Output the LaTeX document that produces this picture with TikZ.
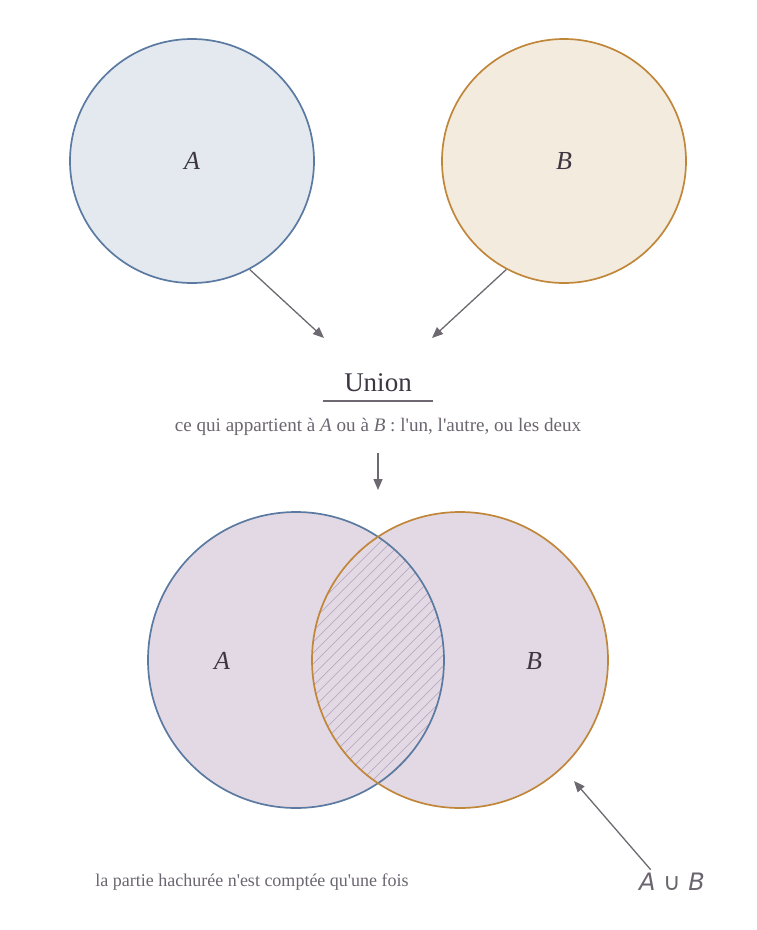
\documentclass[tikz,border=0pt]{standalone}
\usepackage{fontspec}
\setmainfont{Liberation Serif}
\newfontfamily\unionsym{DejaVu Sans}
\usetikzlibrary{arrows.meta}

\definecolor{lineA}{HTML}{5B7AA1}
\definecolor{fillA}{HTML}{E4E9F0}
\definecolor{lineB}{HTML}{C0873A}
\definecolor{fillB}{HTML}{F4EBDF}
\definecolor{fillU}{HTML}{E3D9E4}
\definecolor{hatchline}{HTML}{B8AAC2}
\definecolor{arrowgray}{HTML}{6E6870}
\definecolor{inkdark}{HTML}{3D3541}
\definecolor{inkgray}{HTML}{6B6570}

\tikzset{
    setlabel/.style={text=inkdark, font=\fontsize{26}{30}\selectfont\itshape},
    setcircle/.style={circle, line width=1.7pt, minimum size=244pt, inner sep=0pt},
    pointer/.style={draw=arrowgray, line width=1.3pt, -{Triangle[length=11pt,width=9pt]}}
}

\begin{document}
\begin{tikzpicture}[
        x = 1pt,
        y = -1pt
    ]
        \useasboundingbox (0,0) rectangle (756,930);

        % the two sets apart
        \node[setcircle, draw=lineA, fill=fillA, setlabel] (topA) at (192,161) {A};
        \node[setcircle, draw=lineB, fill=fillB, setlabel] (topB) at (564,161) {B};

        % title
        \node[text=inkdark, font=\fontsize{27}{32}\selectfont] (union) at (378,383) {Union};
        \draw[arrowgray, line width=1.3pt] (323,401) -- (433,401);
        \node[text=inkgray, font=\fontsize{19.1}{23}\selectfont] (subtitle) at (378,427)
            {ce qui appartient à \textit{A} ou à \textit{B} : l\textquotesingle un, l\textquotesingle autre, ou les deux};

        \coordinate (inL) at (324,338);
        \coordinate (inR) at (432,338);
        \coordinate (inU) at (378,490);
        \draw[pointer] (topA.-62) -- (inL);
        \draw[pointer] (topB.-118) -- (inR);
        \draw[pointer, shorten <=14pt] (subtitle.south) -- (inU);

        % the union
        \fill[fillU] (296,660) circle (148pt) (460,660) circle (148pt);
        \begin{scope}
            \clip (296,660) circle (148pt);
            \clip (460,660) circle (148pt);
            \foreach \s in {80,91,...,370}
                \draw[hatchline, line width=0.7pt] (\s,820) -- ++(340,-340);
        \end{scope}
        \draw[lineA, line width=1.7pt] (296,660) circle (148pt);
        \draw[lineB, line width=1.7pt] (460,660) circle (148pt);
        \node[setlabel] (botA) at (222,661) {A};
        \node[setlabel] (botB) at (534,661) {B};

        \node[text=inkgray, font=\unionsym\fontsize{24}{28}\selectfont\itshape] (AuB) at (672,882) {A ∪ B};
        \coordinate (tipAuB) at (574,781);
        \draw[pointer] (AuB.150) -- (tipAuB);

        \node[text=inkgray, font=\fontsize{18}{22}\selectfont] (note) at (252,882)
            {la partie hachurée n\textquotesingle est comptée qu\textquotesingle une fois};
    \end{tikzpicture}
\end{document}
